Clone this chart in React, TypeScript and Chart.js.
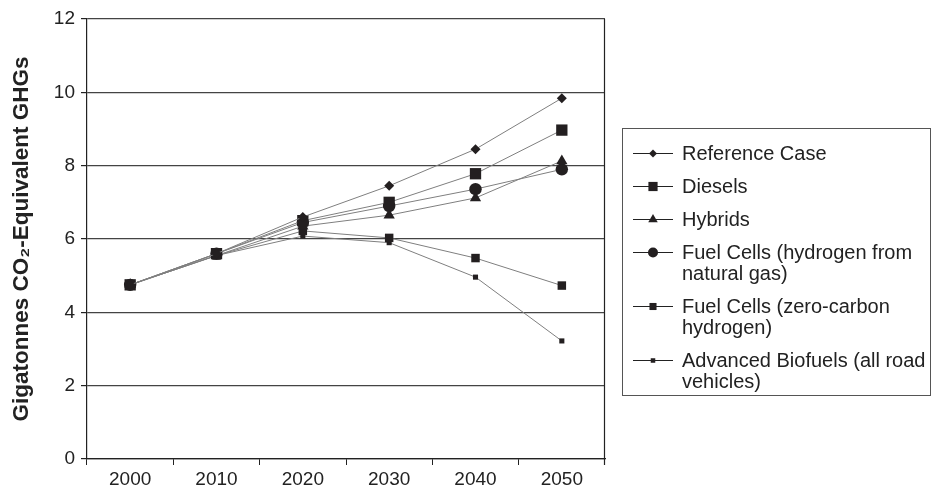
import React, { useEffect, useRef } from 'react';
import { Chart, registerables } from 'chart.js';

Chart.register(...registerables);

const years = ['2000', '2010', '2020', '2030', '2040', '2050'];
const referenceCase = [4.75, 5.6, 6.6, 7.45, 8.45, 9.84];
const diesels = [4.75, 5.6, 6.5, 7.0, 7.78, 8.97];
const hybrids = [4.75, 5.55, 6.35, 6.65, 7.12, 8.13];
const fuelCellsNaturalGas = [4.75, 5.6, 6.45, 6.9, 7.36, 7.9];
const fuelCellsZeroCarbon = [4.75, 5.55, 6.22, 6.03, 5.48, 4.73];
const advancedBiofuels = [4.75, 5.55, 6.08, 5.9, 4.96, 3.22];

const seriesLabels = [
  'Reference Case',
  'Diesels',
  'Hybrids',
  'Fuel Cells (hydrogen from natural gas)',
  'Fuel Cells (zero-carbon hydrogen)',
  'Advanced Biofuels (all road vehicles)',
];
const legendLines = [
  ['Reference Case'],
  ['Diesels'],
  ['Hybrids'],
  ['Fuel Cells (hydrogen from', 'natural gas)'],
  ['Fuel Cells (zero-carbon', 'hydrogen)'],
  ['Advanced Biofuels (all road', 'vehicles)'],
];
const yAxisTitle = 'Gigatonnes CO\u2082-Equivalent GHGs';

const FONT = '"Liberation Sans", Arial, Helvetica, sans-serif';
const MARK = '#231f20';
const LINE = '#7f7f7f';

const styles = [
  { pointStyle: 'rectRot', radius: 5, legendRadius: 4 },
  { pointStyle: 'rect', radius: 8, legendRadius: 6.5 },
  { pointStyle: 'triangle', radius: 6.5, legendRadius: 5.5 },
  { pointStyle: 'circle', radius: 6.2, legendRadius: 5 },
  { pointStyle: 'rect', radius: 6, legendRadius: 5 },
  { pointStyle: 'rect', radius: 3.6, legendRadius: 3.2 },
];

function drawMarker(ctx: CanvasRenderingContext2D, style: string, x: number, y: number, r: number) {
  ctx.beginPath();
  if (style === 'rect') {
    const s = Math.SQRT1_2 * r;
    ctx.rect(x - s, y - s, 2 * s, 2 * s);
  } else if (style === 'rectRot') {
    ctx.moveTo(x, y - r);
    ctx.lineTo(x + r, y);
    ctx.lineTo(x, y + r);
    ctx.lineTo(x - r, y);
    ctx.closePath();
  } else if (style === 'triangle') {
    ctx.moveTo(x, y - r);
    ctx.lineTo(x + r * 0.866, y + r * 0.5);
    ctx.lineTo(x - r * 0.866, y + r * 0.5);
    ctx.closePath();
  } else {
    ctx.arc(x, y, r, 0, Math.PI * 2);
  }
  ctx.fill();
}

const framePlugin = {
  id: 'frameAndLegend',
  afterDraw(chart: any) {
    const ctx: CanvasRenderingContext2D = chart.ctx;
    const { right, top, bottom } = chart.chartArea;
    ctx.save();
    // right border of the plot area
    ctx.strokeStyle = '#222';
    ctx.lineWidth = 1.2;
    ctx.beginPath();
    ctx.moveTo(Math.round(right) - 0.5, top);
    ctx.lineTo(Math.round(right) - 0.5, bottom + 6);
    ctx.stroke();

    // legend box
    const bx = Math.round(right) + 17;
    const by = 128;
    const bw = 308;
    const bh = 267;
    ctx.strokeStyle = '#555';
    ctx.lineWidth = 1;
    ctx.strokeRect(bx + 0.5, by + 0.5, bw, bh);

    let y = by + 25;
    chart.data.datasets.forEach((ds: any, i: number) => {
      ctx.strokeStyle = '#222';
      ctx.lineWidth = 1;
      ctx.beginPath();
      ctx.moveTo(bx + 11, y + 0.5);
      ctx.lineTo(bx + 51, y + 0.5);
      ctx.stroke();
      ctx.fillStyle = MARK;
      drawMarker(ctx, styles[i].pointStyle, bx + 31, y + 0.5, styles[i].legendRadius);
      ctx.fillStyle = '#222';
      ctx.font = `20px ${FONT}`;
      ctx.textBaseline = 'middle';
      ctx.textAlign = 'left';
      const lines = legendLines[i];
      lines.forEach((t, j) => ctx.fillText(t, bx + 60, y + 1 + j * 21));
      y += 33 + (lines.length - 1) * 21;
    });
    ctx.restore();
  },
};

const seriesData = [referenceCase, diesels, hybrids, fuelCellsNaturalGas, fuelCellsZeroCarbon, advancedBiofuels];

export default function App() {
  const ref = useRef<HTMLCanvasElement>(null);
  useEffect(() => {
    if (!ref.current) return;
    const chart = new Chart(ref.current, {
      type: 'line',
      data: {
        labels: years,
        datasets: seriesData.map((d, i) => ({
          label: seriesLabels[i],
          data: d,
          borderColor: LINE,
          borderWidth: 1,
          pointStyle: styles[i].pointStyle as any,
          pointRadius: styles[i].radius,
          pointBackgroundColor: MARK,
          pointBorderColor: MARK,
          pointBorderWidth: 0,
          fill: false,
          tension: 0,
        })),
      },
      options: {
        responsive: false,
        animation: false,
        layout: { padding: { left: 0, top: 19, right: 326, bottom: 0 } },
        plugins: {
          legend: { display: false },
          tooltip: { enabled: false },
        },
        scales: {
          x: {
            type: 'category',
            offset: true,
            grid: {
              offset: true,
              drawOnChartArea: false,
              drawTicks: true,
              tickLength: 6,
              color: '#222',
            },
            border: { display: true, color: '#222', width: 1.2 },
            ticks: {
              color: '#222',
              font: { family: FONT, size: 19 },
              padding: 3,
              maxRotation: 0,
            },
            afterFit: (scale: any) => {
              scale.height = 35;
            },
          },
          y: {
            min: 0,
            max: 12,
            ticks: {
              stepSize: 2,
              color: '#222',
              font: { family: FONT, size: 19 },
              padding: 6,
            },
            grid: {
              color: '#444',
              lineWidth: 1.2,
              drawTicks: true,
              tickLength: 6,
              tickColor: '#222',
            },
            border: { display: true, color: '#222', width: 1.2 },
            title: {
              display: true,
              text: yAxisTitle,
              color: '#222',
              font: { family: FONT, size: 22.5, weight: 'bold' },
              padding: { top: 8, bottom: 0 },
            },
            afterFit: (scale: any) => {
              scale.width = 87;
            },
          },
        },
      },
      plugins: [framePlugin],
    });
    return () => chart.destroy();
  }, []);
  return (
    <div style={{ position: 'absolute', left: 0, top: 0, width: 931, height: 494, background: '#fff' }}>
      <canvas ref={ref} width={931} height={494} style={{ display: 'block' }} />
    </div>
  );
}
